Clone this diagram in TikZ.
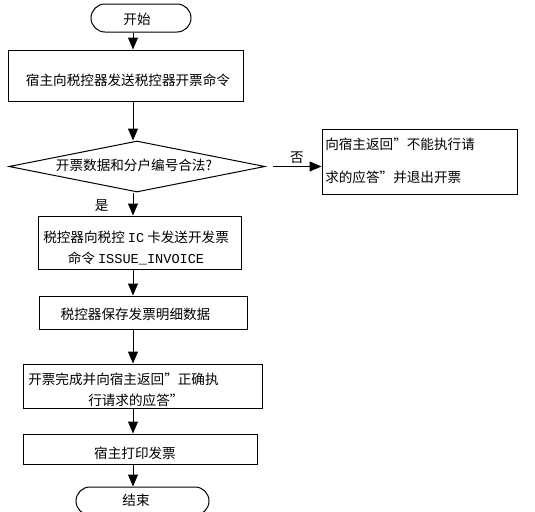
\documentclass[tikz,border=0pt]{standalone}
\usepackage{fontspec}
\setmainfont{Noto Sans CJK SC}
\newfontfamily\asciifont{Liberation Mono}
\usetikzlibrary{arrows.meta,shapes.geometric}
% box from pixel corners: name, style, x1, y1, x2, y2
\newcommand\PixBox[6]{%
    \node[#2, minimum width={(#5-#3)*0.75pt}, minimum height={(#6-#4)*0.75pt}]
        (#1) at ({(#3+#5)/2},{(#4+#6)/2}) {};
}
\tikzset{
    flowbox/.style={draw, line width=0.75pt, inner sep=0pt},
    termbox/.style={flowbox, rounded corners=10.5pt},
    flowline/.style={line width=0.75pt, -{Triangle[width=7.5pt,length=9pt]}},
    lbl/.style={inner sep=0pt, font=\fontsize{10.2}{12}\selectfont}
}
\begin{document}
\begin{tikzpicture}[x=0.75pt, y=-0.75pt]
    \useasboundingbox (0,0) rectangle (535,511);
    \coordinate (col) at (133,0);
    % boxes
    \PixBox{start}{termbox}{91}{4}{191}{32}
    \PixBox{send}{flowbox}{8}{50}{243}{101}
    \node[flowbox, diamond, minimum width=192pt, minimum height=38.25pt] (check) at (137,166.5) {};
    \PixBox{refuse}{flowbox}{322}{129}{517}{194}
    \PixBox{issue}{flowbox}{38}{216}{241}{269}
    \PixBox{save}{flowbox}{39}{296}{247}{329}
    \PixBox{done}{flowbox}{23}{364}{262}{408}
    \PixBox{print}{flowbox}{23}{434}{257}{464}
    \PixBox{stop}{termbox}{76}{487}{209}{515}
    % texts
    \node[lbl] (tstart) at (137,19) {开始};
    \node[lbl] (tsend) at (128,80) {宿主向税控器发送税控器开票命令};
    \node[lbl] (tcheck) at (134,165) {开票数据和分户编号合法?};
    \node[lbl, anchor=west] (trefuse1) at (325,144) {向宿主返回”不能执行请};
    \node[lbl, anchor=west] (trefuse2) at (325,177) {求的应答”并退出开票};
    \node[lbl, anchor=west] (tissue1) at (43,237) {税控器向税控 {\asciifont IC} 卡发送开发票};
    \node[lbl] (tissue2) at (136,258) {命令 {\asciifont ISSUE\_INVOICE}};
    \node[lbl] (tsave) at (135.5,314) {税控器保存发票明细数据};
    \node[lbl, anchor=west] (tdone1) at (28,379) {开票完成并向宿主返回”正确执};
    \node[lbl, anchor=west] (tdone2) at (88,400) {行请求的应答”};
    \node[lbl] (tprint) at (135,453) {宿主打印发票};
    \node[lbl] (tstop) at (136,500) {结束};
    % connectors
    \draw[flowline] (start.south -| col) -- (send.north -| col);
    \draw[flowline] (send.south -| col) -- (check.north -| col);
    \draw[flowline] (check.south -| col) -- (issue.north -| col) node[lbl, pos=0.55, left=18pt] (yes) {是};
    \draw[flowline] ([xshift=5.25pt]check.east) -- (refuse.west |- check.east) node[lbl, midway, above=1.5pt] (no) {否};
    \draw[flowline] (issue.south -| col) -- (save.north -| col);
    \draw[flowline] (save.south -| col) -- (done.north -| col);
    \draw[flowline] (done.south -| col) -- (print.north -| col);
    \draw[flowline] (print.south -| col) -- (stop.north -| col);
\end{tikzpicture}
\end{document}
